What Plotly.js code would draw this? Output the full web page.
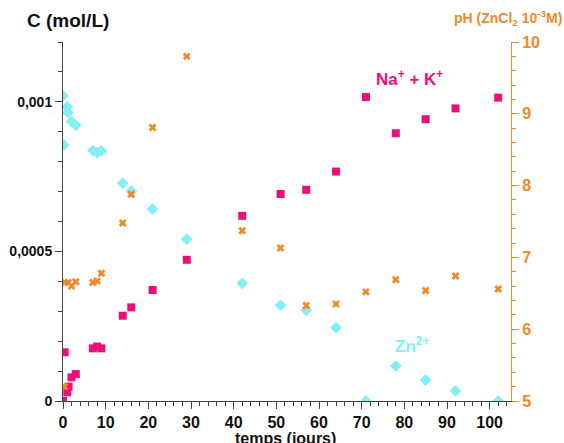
<!DOCTYPE html>
<html>
<head>
<meta charset="utf-8">
<script src="https://cdn.plot.ly/plotly-3.0.1.min.js"></script>
<style>html,body{margin:0;padding:0;background:#fff}#chart{width:564px;height:443px}</style>
</head>
<body>
<div id="chart"></div>
<script>
// Na+ + K+ concentration (mol/L)
const naDays = [0, 0.4, 1, 1.3, 2, 3, 7, 8, 9, 14, 16, 21, 29, 42, 51, 57, 64, 71, 78, 85, 92, 102];
const naConc = [0, 0.000163, 0.000029, 0.000048, 0.000079, 0.00009, 0.000176, 0.000182, 0.000176, 0.000285, 0.000313, 0.000371, 0.000472, 0.000619, 0.000692, 0.000706, 0.000767, 0.001016, 0.000895, 0.000942, 0.000978, 0.001014];
// Zn2+ concentration (mol/L)
const znDays = [0, 0.2, 1, 1.2, 2, 3, 7, 8, 9, 14, 16, 21, 29, 42, 51, 57, 64, 71, 78, 85, 92, 102];
const znConc = [0.00102, 0.000856, 0.000983, 0.000964, 0.000934, 0.000921, 0.000837, 0.00083, 0.000837, 0.000728, 0.000702, 0.000642, 0.000541, 0.000393, 0.00032, 0.000304, 0.000245, 0, 0.000117, 0.00007, 0.000034, 0];
// pH
const phDays = [0.3, 0.4, 1.2, 2, 3, 7, 8, 9, 14, 16, 21, 29, 42, 51, 57, 64, 71, 78, 85, 92, 102];
const phVals = [5.2, 6.65, 6.65, 6.6, 6.66, 6.65, 6.67, 6.78, 7.48, 7.88, 8.81, 9.8, 7.37, 7.13, 6.33, 6.35, 6.52, 6.69, 6.54, 6.74, 6.56];
// tick labels
const cTickVals = [0, 0.0005, 0.001];
const cTickText = ['0', '0,0005', '0,001'];

const MAG = '#EC0F78', CYA = '#80F0F5', ORA = '#EE8A2A';
const F = 'Liberation Sans, Arial, sans-serif';

const traces = [
  {x: phDays, y: phVals, yaxis: 'y2', mode: 'markers', type: 'scatter',
   marker: {symbol: 'x', size: 7, color: ORA}},
  {x: znDays, y: znConc, mode: 'markers', type: 'scatter',
   marker: {symbol: 'diamond', size: 9, color: CYA}},
  {x: naDays, y: naConc, mode: 'markers', type: 'scatter',
   marker: {symbol: 'square', size: 8, color: MAG}}
];

const layout = {
  width: 564, height: 443,
  margin: {l: 63, r: 53, t: 42, b: 42},
  showlegend: false,
  paper_bgcolor: '#fff', plot_bgcolor: '#fff',
  xaxis: {
    range: [0, 105], dtick: 10, tick0: 0, showgrid: false, zeroline: false,
    showline: true, linecolor: '#444', linewidth: 1,
    ticks: 'outside', ticklen: 7, tickcolor: '#444',
    minor: {dtick: 2, ticks: 'outside', ticklen: 4, tickcolor: '#444'},
    tickfont: {family: F, size: 16, color: '#111', weight: 'bold'}
  },
  yaxis: {
    range: [0, 0.0012], tickvals: cTickVals, ticktext: cTickText,
    showgrid: false, zeroline: false, showline: true, linecolor: '#444', linewidth: 1,
    ticks: 'outside', ticklen: 7, tickcolor: '#444',
    minor: {dtick: 0.0001, tick0: 0, ticks: 'outside', ticklen: 4, tickcolor: '#444'},
    tickfont: {family: F, size: 14, color: '#111', weight: 'bold'}
  },
  yaxis2: {
    overlaying: 'y', side: 'right', range: [5, 10], dtick: 1,
    showgrid: false, zeroline: false, showline: true, linecolor: ORA, linewidth: 1,
    ticks: 'outside', ticklen: 7, tickcolor: ORA,
    minor: {dtick: 0.2, ticks: 'outside', ticklen: 4, tickcolor: ORA},
    tickfont: {family: F, size: 16, color: ORA, weight: 'bold'}
  },
  annotations: [
    {text: 'C (mol/L)', xref: 'paper', yref: 'paper', x: -0.085, y: 1, yshift: 22,
     xanchor: 'left', yanchor: 'middle', showarrow: false,
     font: {family: F, size: 19, color: '#111', weight: 'bold'}},
    {text: 'pH (ZnCl<sub>2</sub> 10<sup>-3</sup>M)', xref: 'paper', yref: 'paper', x: 1, xshift: 53, y: 1, yshift: 24,
     xanchor: 'right', yanchor: 'middle', showarrow: false,
     font: {family: F, size: 14, color: ORA, weight: 'bold'}},
    {text: 'temps (jours)', xref: 'paper', yref: 'paper', x: 0.497, y: 0, yshift: -37,
     xanchor: 'center', yanchor: 'middle', showarrow: false,
     font: {family: F, size: 16, color: '#111', weight: 'bold'}},
    {text: 'Na<sup>+</sup> + K<sup>+</sup>', x: 81.3, y: 0.00108, showarrow: false,
     xanchor: 'center', yanchor: 'middle',
     font: {family: F, size: 17, color: MAG, weight: 'bold'}},
    {text: 'Zn<sup>2+</sup>', x: 81.8, y: 0.000187, showarrow: false,
     xanchor: 'center', yanchor: 'middle',
     font: {family: F, size: 17, color: CYA, weight: 'bold'}}
  ]
};

Plotly.newPlot('chart', traces, layout, {displayModeBar: false, staticPlot: true});
</script>
</body>
</html>
